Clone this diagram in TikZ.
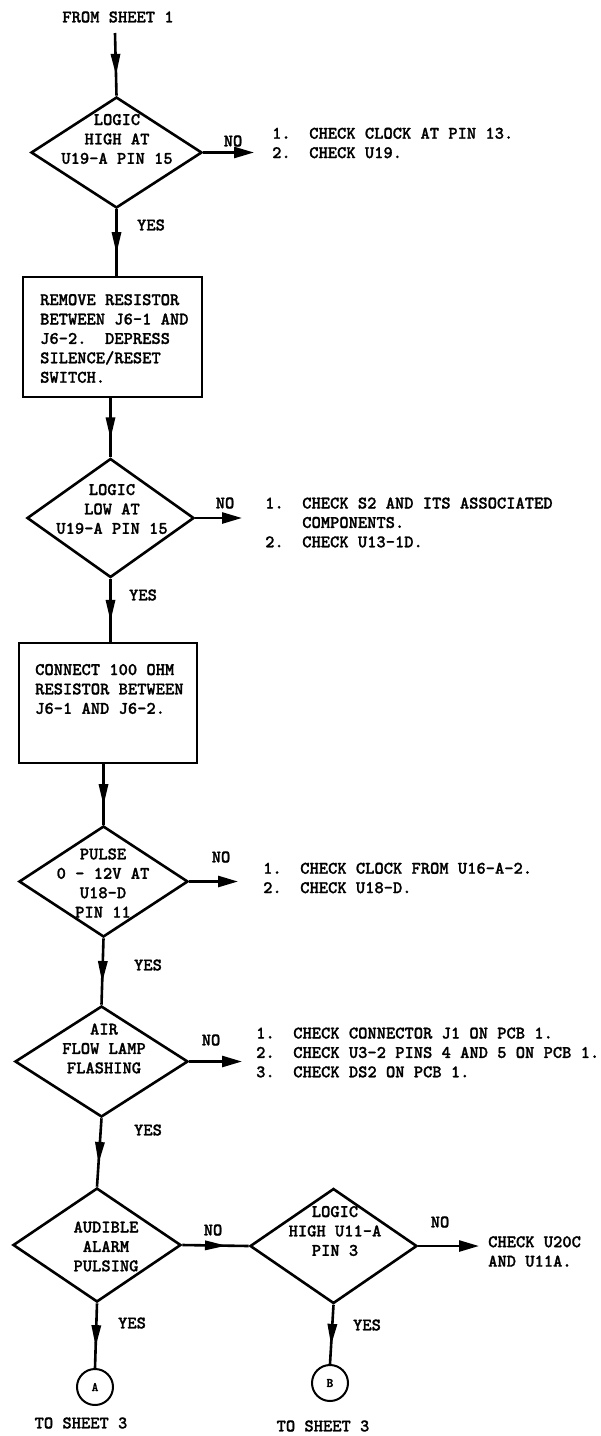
\documentclass[tikz,border=0pt]{standalone}
\usepackage{fontspec}
\newfontfamily\tw{lmmonolt10-bold.otf}[FakeBold=1.2]
\usetikzlibrary{shapes.geometric,arrows.meta,decorations.markings}
\tikzset{
  txt/.style={inner sep=0pt, font=\tw\fontsize{17.66}{19.4}\selectfont},
  lst/.style={txt, align=left, anchor=west},
  ctr/.style={txt, align=center},
  dia/.style={diamond, draw, line width=2.6pt, inner sep=0pt},
  boxx/.style={rectangle, draw, line width=2.6pt, inner sep=0pt},
  conn/.style={draw, line width=2.6pt, postaction={decorate},
    decoration={markings, mark=at position 0.5 with {\fill (10.5pt,0pt) -- (-10.5pt,5pt) -- (-10.5pt,-5pt) -- cycle;}}},
  noarr/.style={draw, line width=2.6pt, -{Triangle[length=20pt,width=11pt]}},
  con/.style={circle, draw, line width=2pt, minimum size=36pt, inner sep=0pt, font=\tw\fontsize{13}{15}\selectfont}
}
\begin{document}
\begin{tikzpicture}[x=1pt,y=-1pt]
\useasboundingbox (0,0) rectangle (601,1436);
\node[ctr] (from) at (118,17) {FROM SHEET 1};
\coordinate (s0) at (115,33);
% D1
\node[dia, minimum width=171pt, minimum height=111pt] (d1) at (116.5,152.5) {};
\node[ctr] (d1t) at (117,139) {LOGIC\\HIGH AT\\U19-A PIN 15};
\node[ctr] (no1) at (233,141) {NO};
\coordinate (n1) at (254,152.5);
\node[lst] (l1) at (272,143) {1.~~CHECK CLOCK AT PIN 13.\\2.~~CHECK U19.};
\node[ctr] (y1) at (151,225) {YES};
% Box 1
\node[boxx, minimum width=179pt, minimum height=120pt] (b1) at (112.5,337) {};
\node[lst] (b1t) at (40,338.5) {REMOVE RESISTOR\\BETWEEN J6-1 AND\\J6-2.~~DEPRESS\\SILENCE/RESET\\SWITCH.};
% D2
\node[dia, minimum width=167pt, minimum height=119pt] (d2) at (110.5,518) {};
\node[ctr] (d2t) at (112,509) {LOGIC\\LOW AT\\U19-A PIN 15};
\node[ctr] (no2) at (225,503) {NO};
\coordinate (n2) at (242,518);
\node[lst] (l2) at (265,522.5) {1.~~CHECK S2 AND ITS ASSOCIATED\\\hphantom{1.~~}COMPONENTS.\\2.~~CHECK U13-1D.};
\node[ctr] (y2) at (143,595) {YES};
% Box 2
\node[boxx, minimum width=178pt, minimum height=120pt] (b2) at (108,703) {};
\node[lst] (b2t) at (35,689) {CONNECT 100 OHM\\RESISTOR BETWEEN\\J6-1 AND J6-2.};
% D3
\node[dia, minimum width=169pt, minimum height=111pt] (d3) at (103.5,881.5) {};
\node[ctr] (d3t) at (103,883) {PULSE\\0 - 12V AT\\U18-D\\PIN 11};
\node[ctr] (no3) at (221,857) {NO};
\coordinate (n3) at (238,881.5);
\node[lst] (l3) at (263,878) {1.~~CHECK CLOCK FROM U16-A-2.\\2.~~CHECK U18-D.};
\node[ctr] (y3) at (148,965) {YES};
% D4
\node[dia, minimum width=173pt, minimum height=111pt] (d4) at (101.5,1061.5) {};
\node[ctr] (d4t) at (104,1048.5) {AIR\\FLOW LAMP\\FLASHING};
\node[ctr] (no4) at (211,1040) {NO};
\coordinate (n4) at (242,1061.5);
\node[lst] (l4) at (256,1052.5) {1.~~CHECK CONNECTOR J1 ON PCB 1.\\2.~~CHECK U3-2 PINS 4 AND 5 ON PCB 1.\\3.~~CHECK DS2 ON PCB 1.};
\node[ctr] (y4) at (148,1130) {YES};
% D5, D6
\node[dia, minimum width=168pt, minimum height=114pt] (d5) at (97,1245) {};
\node[ctr] (d5t) at (106,1246.5) {AUDIBLE\\ALARM\\PULSING};
\node[ctr] (no5) at (213,1230) {NO};
\node[dia, minimum width=167pt, minimum height=115pt] (d6) at (333.5,1246) {};
\node[ctr] (d6t) at (335,1231) {LOGIC\\HIGH U11-A\\PIN 3};
\node[ctr] (no6) at (440,1222) {NO};
\coordinate (n6) at (479,1246);
\node[lst] (l6) at (488,1251.5) {CHECK U20C\\AND U11A.};
\node[ctr] (y5) at (132,1323) {YES};
\node[ctr] (y6) at (367,1325) {YES};
\node[con] (ca) at (95,1387) {A};
\node[con] (cb) at (330,1383) {B};
\node[ctr] (ta) at (81,1423) {TO SHEET 3};
\node[ctr] (tb) at (323,1426) {TO SHEET 3};
% connectors
\draw[conn] (s0) -- (d1.north);
\draw[conn] (d1.south) -- (d1.south |- b1.north);
\draw[conn] (b1.south -| d2.north) -- (d2.north);
\draw[conn] (d2.south) -- (d2.south |- b2.north);
\draw[conn] (b2.south -| d3.north) -- (d3.north);
\draw[conn] (d3.south) -- (d4.north);
\draw[conn] (d4.south) -- (d5.north);
\draw[conn] (d5.east) -- (d6.west);
\draw[conn] (d5.south) -- (ca.north);
\draw[conn] (d6.south) -- (cb.north);
\draw[noarr] (d1.east) -- (n1);
\draw[noarr] (d2.east) -- (n2);
\draw[noarr] (d3.east) -- (n3);
\draw[noarr] (d4.east) -- (n4);
\draw[noarr] (d6.east) -- (n6);
\end{tikzpicture}
\end{document}
